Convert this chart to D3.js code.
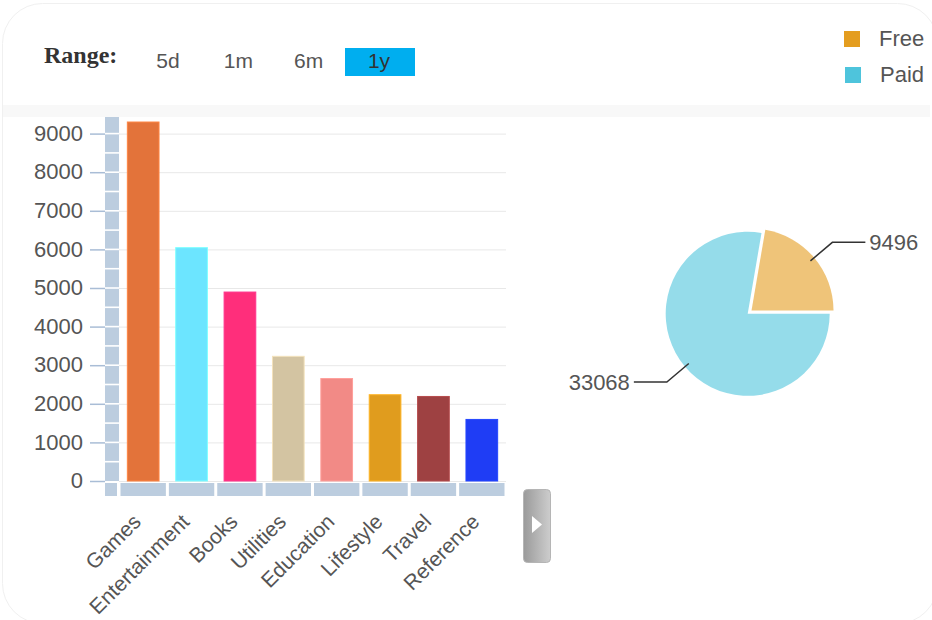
<!DOCTYPE html>
<html>
<head>
<meta charset="utf-8">
<script src="https://cdn.jsdelivr.net/npm/d3@7"></script>
<style>
  body { margin: 0; background: #fff; }
  svg text { font-family: "Liberation Sans", Arial, sans-serif; fill: #555; }
</style>
</head>
<body>
<svg id="chart" width="932" height="620"></svg>
<script>
// bar chart data
const categories = ['Games', 'Entertainment', 'Books', 'Utilities', 'Education', 'Lifestyle', 'Travel', 'Reference'];
const downloads = [9300, 6045, 4895, 3230, 2655, 2235, 2190, 1595];
const barColors = ['#e3733a', '#6ce5ff', '#ff2e7b', '#d3c4a2', '#f28a86', '#e09c1e', '#9e4142', '#1f3df5'];
const yTicks = [0, 1000, 2000, 3000, 4000, 5000, 6000, 7000, 8000, 9000];

// pie data
const pieLabels = ['Free', 'Paid'];
const pieValues = [9496, 33068];
const pieColors = ['#e49d1f', '#4ec4dc'];

const ranges = ['5d', '1m', '6m', '1y'];
const activeRange = '1y';

const svg = d3.select('#chart');

// card + header strip
svg.append('rect')
  .attr('x', 2.5).attr('y', 3.5).attr('width', 935).attr('height', 620)
  .attr('rx', 40).attr('fill', '#fff').attr('stroke', '#f0f0f0');
svg.append('rect')
  .attr('x', 3).attr('y', 105).attr('width', 927).attr('height', 12)
  .attr('fill', '#f8f8f8');

// range selector
svg.append('text')
  .attr('x', 44).attr('y', 63)
  .style('font-family', '"Liberation Serif", "Times New Roman", serif')
  .style('font-weight', 'bold').style('font-size', '24px').style('fill', '#333')
  .text('Range:');

const btnX = d3.scalePoint().domain(ranges).range([168, 379]);
const btn = svg.append('g').selectAll('g').data(ranges).join('g')
  .attr('transform', d => `translate(${btnX(d)},0)`);
btn.filter(d => d === activeRange).append('rect')
  .attr('x', -34).attr('y', 48).attr('width', 70).attr('height', 28)
  .attr('fill', '#00aeef');
btn.append('text')
  .attr('y', 68).attr('text-anchor', 'middle').style('font-size', '21px')
  .style('fill', d => d === activeRange ? '#333' : '#555')
  .text(d => d);

// legend
const legend = svg.append('g').selectAll('g').data(pieLabels).join('g')
  .attr('transform', (d, i) => `translate(${844 + i}, ${31 + i * 36})`);
legend.append('rect')
  .attr('width', 16).attr('height', 16)
  .attr('fill', (d, i) => pieColors[i]);
legend.append('text')
  .attr('x', 35).attr('y', 15).style('font-size', '22px')
  .text(d => d);

// ---- bar chart ----
const plotLeft = 119, plotRight = 506, plotTop = 117, plotBottom = 481;
const x = d3.scaleBand().domain(categories)
  .range([plotLeft, plotRight]).paddingInner(0.345).paddingOuter(0.1725);
const y = d3.scaleLinear().domain([0, 9430]).range([plotBottom, plotTop]);
const gap = (x.step() - x.bandwidth()) / 2;

// grid
svg.append('g')
  .attr('transform', `translate(${plotLeft},0)`)
  .call(d3.axisLeft(y).tickValues(yTicks).tickSize(-(plotRight - plotLeft)).tickFormat(''))
  .call(g => g.select('.domain').remove())
  .call(g => g.selectAll('line').attr('stroke', '#e8e8e8'));

// vertical slider strip
const strip = svg.append('g');
strip.append('rect')
  .attr('x', 105).attr('y', plotTop).attr('width', 14).attr('height', plotBottom - plotTop)
  .attr('fill', '#bccddf');
strip.selectAll('line').data(d3.range(500, 9500, 500)).join('line')
  .attr('x1', 105).attr('x2', 119)
  .attr('y1', d => y(d)).attr('y2', d => y(d))
  .attr('stroke', '#fff').attr('stroke-width', 1.6);
strip.append('rect')
  .attr('x', 105).attr('y', 483).attr('width', 12).attr('height', 13)
  .attr('fill', '#bccddf');

// horizontal slider strip, one segment per category
svg.append('g').selectAll('rect').data(categories).join('rect')
  .attr('x', d => x(d) - gap + 1.5)
  .attr('y', 483).attr('width', x.step() - 3).attr('height', 13)
  .attr('fill', '#bccddf');

// y axis
svg.append('g')
  .attr('transform', 'translate(105,0)')
  .call(d3.axisLeft(y).tickValues(yTicks).tickSize(15).tickPadding(7).tickFormat(d3.format('d')))
  .call(g => g.select('.domain').remove())
  .call(g => g.selectAll('line').attr('stroke', '#a9bdd6').attr('stroke-width', 1.5))
  .call(g => g.selectAll('text').attr('fill', null).style('font-size', '22px')
    .attr('font-family', null).attr('dy', '0.3em'));

// bars
svg.append('g').selectAll('rect').data(downloads).join('rect')
  .attr('x', (d, i) => x(categories[i]))
  .attr('y', d => y(d))
  .attr('width', x.bandwidth())
  .attr('height', d => y(0) - y(d))
  .attr('fill', (d, i) => barColors[i])
  .attr('stroke', (d, i) => d3.color(barColors[i]).brighter(0.4))
  .attr('stroke-width', 1);

// x labels
svg.append('g').selectAll('text').data(categories).join('text')
  .attr('text-anchor', 'end')
  .attr('transform', d => `translate(${x(d) + x.bandwidth() / 2 - 1},523) rotate(-45)`)
  .style('font-size', '21px')
  .text(d => d);

// scroll button
const grad = svg.append('defs').append('linearGradient').attr('id', 'btnGrad');
grad.append('stop').attr('offset', '0%').attr('stop-color', '#9a9a9a');
grad.append('stop').attr('offset', '100%').attr('stop-color', '#cdcdcd');
svg.append('rect')
  .attr('x', 523.5).attr('y', 489.5).attr('width', 27).attr('height', 73).attr('rx', 4)
  .attr('fill', 'url(#btnGrad)').attr('stroke', '#b5b5b5');
svg.append('path').attr('d', 'M532,516 L542,524.5 L532,533 Z').attr('fill', '#fff');

// ---- pie ----
const cx = 747.7, cy = 313.8, r = 82;
const pieOrder = [1, 0]; // Paid drawn first, starting at 3 o'clock
const arcs = d3.pie().sort(null)
  .startAngle(Math.PI / 2).endAngle(Math.PI / 2 + 2 * Math.PI)
  .value(i => pieValues[i])(pieOrder);
const arc = d3.arc().innerRadius(0).outerRadius(r);
const pg = svg.append('g').attr('transform', `translate(${cx},${cy})`);

arcs.forEach(a => {
  const i = a.data;
  const mid = (a.startAngle + a.endAngle) / 2;
  const off = i === 0 ? 5 : 0;
  const ox = Math.sin(mid) * off, oy = -Math.cos(mid) * off;
  const g = pg.append('g').attr('transform', `translate(${ox},${oy})`);
  g.append('path').attr('d', arc(a))
    .attr('fill', pieColors[i]).attr('fill-opacity', 0.6);
  const dx = Math.sin(mid), dy = -Math.cos(mid);
  const p1 = [dx * r * 0.94, dy * r * 0.94];
  const p2 = [dx * r * 1.29, dy * r * 1.29];
  const side = dx > 0 ? 1 : -1;
  const p3 = [p2[0] + side * 33, p2[1]];
  g.append('polyline')
    .attr('points', [p1, p2, p3].map(p => p.join(',')).join(' '))
    .attr('fill', 'none').attr('stroke', '#333').attr('stroke-width', 1.5);
  g.append('text')
    .attr('x', p3[0] + side * 4).attr('y', p3[1] + 7.5)
    .attr('text-anchor', side > 0 ? 'start' : 'end')
    .style('font-size', '22px')
    .text(pieValues[i]);
});
</script>
</body>
</html>
